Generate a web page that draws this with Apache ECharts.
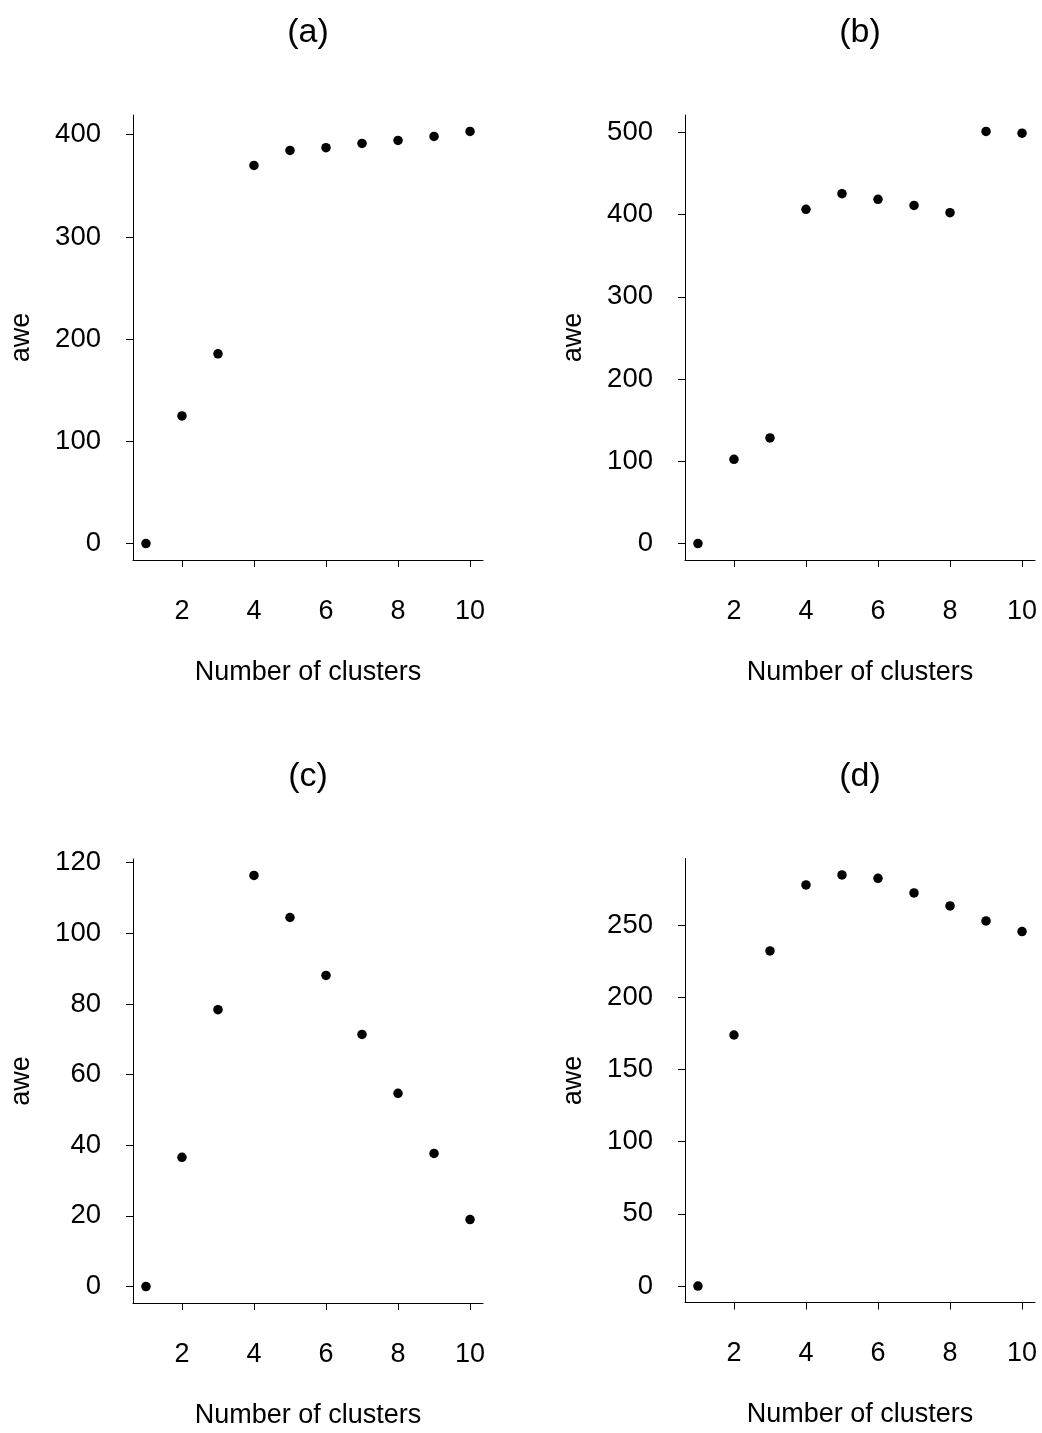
<!DOCTYPE html>
<html>
<head>
<meta charset="utf-8">
<script src="https://cdn.jsdelivr.net/npm/echarts@6/dist/echarts.min.js"></script>
<style>
html,body{margin:0;padding:0;background:#fff;}
#chart{width:1042px;height:1433px;}
</style>
</head>
<body>
<div id="chart"></div>
<script>
// ---- data ----
const clusters = [1, 2, 3, 4, 5, 6, 7, 8, 9, 10];
const aweA = [0, 124.8, 185.6, 370, 384.6, 387.3, 391.5, 394.4, 398.3, 403.2];
const aweB = [0, 102.4, 128.4, 406.5, 425.6, 418.7, 411.3, 402.4, 501.2, 499.1];
const aweC = [0, 36.6, 78.4, 116.4, 104.5, 88.1, 71.4, 54.7, 37.7, 18.95];
const aweD = [0, 173.8, 232, 277.7, 284.6, 282.3, 272.2, 263.2, 252.8, 245.4];
const xTicks = [2, 4, 6, 8, 10];
const yTicksA = [0, 100, 200, 300, 400];
const yTicksB = [0, 100, 200, 300, 400, 500];
const yTicksC = [0, 20, 40, 60, 80, 100, 120];
const yTicksD = [0, 50, 100, 150, 200, 250];
const panelTitles = ['(a)', '(b)', '(c)', '(d)'];
const xTitle = 'Number of clusters';
const yTitle = 'awe';

const FONT = '"Liberation Sans", Arial, Helvetica, sans-serif';
const panels = [
  {vals: aweA, ticks: yTicksA, ymin: -16.12, ymax: 419.3, left: 133, top: 115, h: 445},
  {vals: aweB, ticks: yTicksB, ymin: -20.05, ymax: 521.25, left: 685, top: 115, h: 445},
  {vals: aweC, ticks: yTicksC, ymin: -4.66, ymax: 121.06, left: 133, top: 859, h: 444},
  {vals: aweD, ticks: yTicksD, ymin: -11.38, ymax: 296, left: 685, top: 858.5, h: 444}
];

const grid = [], xAxis = [], yAxis = [], series = [], graphic = [];
panels.forEach((p, i) => {
  grid.push({left: p.left, top: p.top, width: 350, height: p.h, containLabel: false});
  xAxis.push({
    type: 'value', gridIndex: i, min: 0.64, max: 10.36,
    name: xTitle, nameLocation: 'middle', nameGap: 99,
    nameTextStyle: {fontFamily: FONT, fontSize: 27, color: '#000'},
    axisLine: {show: true, onZero: false, lineStyle: {color: '#000', width: 1}},
    axisTick: {show: true, inside: false, length: 7, customValues: xTicks, lineStyle: {color: '#000', width: 1}},
    axisLabel: {show: true, customValues: xTicks, margin: 38, fontFamily: FONT, fontSize: 27, color: '#000'},
    splitLine: {show: false}
  });
  yAxis.push({
    type: 'value', gridIndex: i, min: p.ymin, max: p.ymax,
    name: yTitle, nameLocation: 'middle', nameGap: 98, nameRotate: 90,
    nameTextStyle: {fontFamily: FONT, fontSize: 27, color: '#000'},
    axisLine: {show: true, onZero: false, lineStyle: {color: '#000', width: 1}},
    axisTick: {show: true, inside: false, length: 7, customValues: p.ticks, lineStyle: {color: '#000', width: 1}},
    axisLabel: {show: true, customValues: p.ticks, margin: 32, fontFamily: FONT, fontSize: 27.5, color: '#000'},
    splitLine: {show: false}
  });
  series.push({
    type: 'scatter', xAxisIndex: i, yAxisIndex: i,
    symbol: 'circle', symbolSize: 9.5,
    itemStyle: {color: '#000', opacity: 1},
    data: clusters.map((c, k) => [c, p.vals[k]])
  });
  graphic.push({
    type: 'text', x: p.left + 175, y: (i < 2 ? 33 : 777),
    style: {text: panelTitles[i], font: '34px ' + FONT, fill: '#000',
            align: 'center', verticalAlign: 'middle', textAlign: 'center', textVerticalAlign: 'middle'}
  });
});

const chart = echarts.init(document.getElementById('chart'), null, {renderer: 'canvas'});
chart.setOption({
  animation: false,
  backgroundColor: '#fff',
  grid, xAxis, yAxis, series, graphic
});
</script>
</body>
</html>
